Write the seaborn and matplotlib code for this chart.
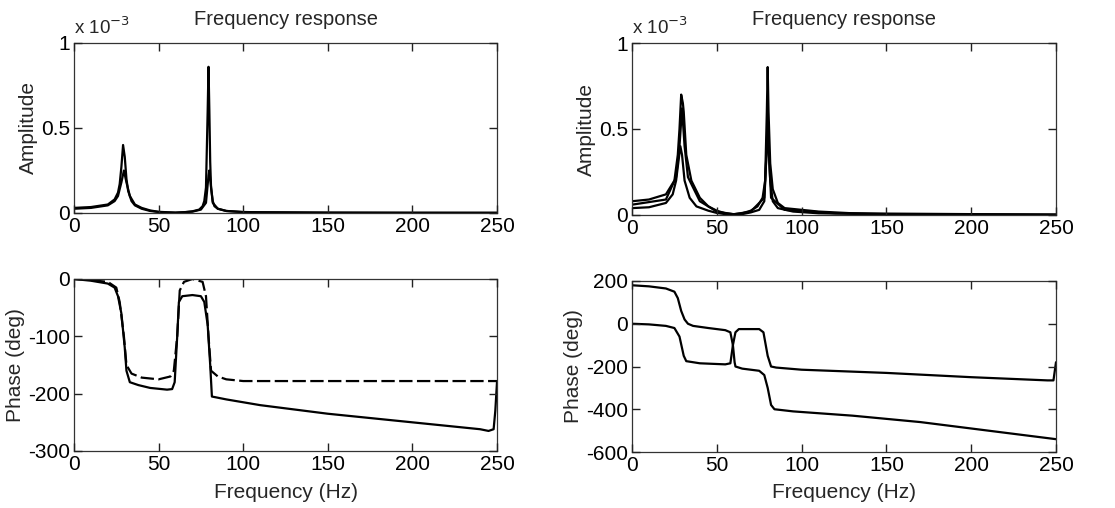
import matplotlib
matplotlib.use("Agg")
import matplotlib.pyplot as plt
import pandas as pd
import seaborn as sns

# amplitude values in units of 1e-3
AMP_L1_F = [0, 10, 20, 24, 26, 27, 28, 29, 30, 31, 32, 34, 36, 40, 45, 50, 55, 60, 65, 70, 74, 76, 77, 78,
            79, 79.5, 80, 80.5, 81, 82, 83, 85, 90, 100, 110, 150, 200, 250]
AMP_L1 = [0.03, 0.035, 0.05, 0.08, 0.12, 0.17, 0.27, 0.40, 0.33, 0.20, 0.13, 0.07, 0.045, 0.025, 0.012, 0.006,
          0.003, 0.002, 0.004, 0.010, 0.020, 0.040, 0.070, 0.15, 0.60, 0.86, 0.60, 0.30, 0.15, 0.07, 0.04,
          0.025, 0.012, 0.006, 0.004, 0.002, 0.001, 0.001]
AMP_L2_F = [0, 10, 20, 24, 26, 28, 29.5, 31, 33, 36, 40, 45, 50, 60, 70, 75, 78, 79.5, 80, 80.5, 82, 85, 90,
            100, 150, 250]
AMP_L2 = [0.025, 0.03, 0.045, 0.07, 0.10, 0.18, 0.25, 0.18, 0.10, 0.05, 0.03, 0.015, 0.007, 0.002, 0.008,
          0.02, 0.06, 0.22, 0.25, 0.20, 0.06, 0.025, 0.012, 0.005, 0.002, 0.001]

AMP_R1_F = [0, 10, 20, 25, 27, 28, 29, 30, 30.5, 32, 35, 40, 45, 50, 55, 60, 65, 70, 74, 77, 78.5, 79.5,
            80, 80.5, 81.5, 83, 86, 90, 100, 110, 130, 150, 200, 250]
AMP_R1 = [0.08, 0.09, 0.12, 0.20, 0.35, 0.50, 0.70, 0.65, 0.60, 0.35, 0.20, 0.10, 0.05, 0.025, 0.010, 0.005,
          0.010, 0.025, 0.050, 0.10, 0.20, 0.60, 0.86, 0.60, 0.30, 0.15, 0.07, 0.04, 0.03, 0.02, 0.01, 0.005,
          0.003, 0.002]
AMP_R2_F = [0, 10, 20, 24, 26, 27.5, 28.5, 29.5, 31, 34, 38, 45, 50, 55, 60, 65, 70, 75, 78, 79.5, 80, 80.5,
            81.5, 83, 86, 95, 110, 140, 200, 250]
AMP_R2 = [0.04, 0.045, 0.07, 0.12, 0.20, 0.32, 0.40, 0.35, 0.20, 0.10, 0.05, 0.025, 0.012, 0.005, 0.002,
          0.005, 0.015, 0.03, 0.08, 0.40, 0.60, 0.40, 0.20, 0.08, 0.04, 0.02, 0.01, 0.005, 0.002, 0.001]
AMP_R3_F = [0, 20, 26, 28, 29.5, 31, 33, 40, 50, 60, 70, 78, 80, 82, 90, 120, 250]
AMP_R3 = [0.06, 0.09, 0.22, 0.40, 0.62, 0.40, 0.22, 0.08, 0.02, 0.004, 0.02, 0.10, 0.50, 0.10, 0.03, 0.01, 0.002]

PH_L1_F = [0, 10, 20, 24, 26, 28, 30, 31, 33, 38, 45, 55, 58, 59.5, 61, 62, 64, 70, 75, 77, 79, 80.5, 81.5,
           90, 110, 150, 200, 240, 245, 248, 249, 250]
PH_L1 = [0, -3, -8, -15, -30, -60, -120, -160, -180, -185, -190, -193, -192, -180, -100, -40, -30, -28, -30,
         -40, -80, -150, -205, -210, -220, -235, -250, -262, -265, -262, -230, -180]
PH_L2_F = [0, 10, 20, 25, 27, 29.5, 31, 34, 40, 50, 57, 59, 61, 62.5, 65, 70, 76, 78, 79.5, 81, 85, 90, 100,
           250]
PH_L2 = [0, -2, -5, -15, -40, -100, -150, -165, -172, -175, -170, -160, -100, -20, -5, 0, -5, -30, -100,
         -160, -170, -175, -178, -178]

PH_R1_F = [0, 10, 20, 25, 27, 29, 31, 33, 36, 45, 55, 58, 59.5, 60.5, 61, 65, 75, 78, 80, 82, 84, 95, 130,
           170, 210, 250]
PH_R1 = [180, 175, 165, 150, 120, 60, 20, 0, -10, -20, -30, -40, -100, -180, -200, -210, -220, -240, -300,
         -380, -400, -410, -430, -460, -500, -540]
PH_R2_F = [0, 10, 20, 25, 28, 30.5, 32, 40, 55, 58, 59.5, 61, 63, 75, 77.5, 80, 82, 85, 100, 150, 200, 245,
           248.5, 250]
PH_R2 = [0, -3, -10, -20, -60, -150, -175, -185, -190, -185, -100, -40, -25, -25, -40, -150, -200, -205, -215,
         -230, -250, -265, -265, -180]

FREQ_TICKS = [0, 50, 100, 150, 200, 250]


def draw(ax, x, y, **kw):
    df = pd.DataFrame({"f": x, "v": y})
    sns.lineplot(data=df, x="f", y="v", ax=ax, color="black", linewidth=1.6, **kw)


def style(ax, ylim, yticks, ylabel, xlabel=None):
    ax.set_xlim(0, 250)
    ax.set_ylim(*ylim)
    ax.set_xticks(FREQ_TICKS)
    ax.set_yticks(yticks)
    ax.tick_params(axis="both", which="major", direction="in", length=6, width=1.0,
                   color="#222222", bottom=True, top=True, left=True, right=True,
                   labelsize=15, labelcolor="black", pad=3)
    for s in ax.spines.values():
        s.set_color("#333333")
        s.set_linewidth(0.9)
    ax.set_ylabel(ylabel, fontsize=15, labelpad=2)
    ax.set_xlabel(xlabel if xlabel else "", fontsize=15, labelpad=6)


sns.set_theme(style="ticks")
plt.rcParams["font.family"] = ["Liberation Sans", "DejaVu Sans"]
plt.rcParams["axes.unicode_minus"] = False
plt.rcParams["axes.axisbelow"] = False

fig = plt.figure(figsize=(11.15, 5.08), dpi=100)
W, H = 1115, 508
ax1 = fig.add_axes([74 / W, 1 - 213 / H, 423 / W, 170 / H])
ax2 = fig.add_axes([74 / W, 1 - 451 / H, 423 / W, 172 / H])
ax3 = fig.add_axes([632 / W, 1 - 215 / H, 424 / W, 172 / H])
ax4 = fig.add_axes([632 / W, 1 - 452 / H, 424 / W, 171 / H])

draw(ax1, AMP_L2_F, AMP_L2)
draw(ax1, AMP_L1_F, AMP_L1)
draw(ax2, PH_L1_F, PH_L1)
draw(ax2, PH_L2_F, PH_L2, linestyle=(0, (6, 2)))
draw(ax3, AMP_R1_F, AMP_R1)
draw(ax3, AMP_R2_F, AMP_R2)
draw(ax3, AMP_R3_F, AMP_R3)
draw(ax4, PH_R1_F, PH_R1)
draw(ax4, PH_R2_F, PH_R2)

for ax in (ax1, ax3):
    style(ax, (0, 1), [0, 0.5, 1], "Amplitude")
    ax.set_yticklabels(["0", "0.5", "1"])
    ax.set_title("Frequency response", fontsize=14.5, pad=13)
    ax.text(0.0, 1.03, "x 10$^{-3}$", transform=ax.transAxes, fontsize=13.5, ha="left", va="bottom")
style(ax2, (-300, 0), [-300, -200, -100, 0], "Phase (deg)", "Frequency (Hz)")
style(ax4, (-600, 200), [-600, -400, -200, 0, 200], "Phase (deg)", "Frequency (Hz)")

fig.savefig("out.png", dpi=100, facecolor="white")
